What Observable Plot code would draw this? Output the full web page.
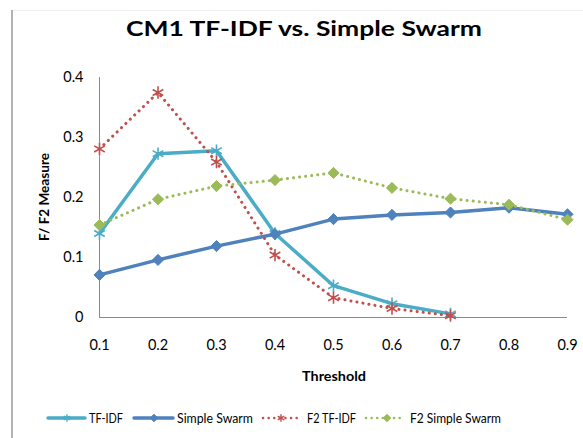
<!DOCTYPE html>
<html>
<head>
<meta charset="utf-8">
<script src="https://cdn.jsdelivr.net/npm/d3@7"></script>
<script src="https://cdn.jsdelivr.net/npm/@observablehq/plot@0.6"></script>
<style>
  html, body { margin: 0; padding: 0; background: #fff; }
  #wrap { position: relative; width: 583px; height: 438px; overflow: hidden; background: #fff; }
  #wrap svg { position: absolute; left: 0; top: 0; }
</style>
</head>
<body>
<div id="wrap"></div>
<script>
// ---- data ----
const title = "CM1 TF-IDF vs. Simple Swarm";
const xLabel = "Threshold";
const yLabel = "F/ F2 Measure";
const thresholds = [0.1, 0.2, 0.3, 0.4, 0.5, 0.6, 0.7, 0.8, 0.9];
const yTicks = [0, 0.1, 0.2, 0.3, 0.4];
const seriesNames = ["TF-IDF", "Simple Swarm", "F2 TF-IDF", "F2 Simple Swarm"];
const tfidf = [0.140, 0.273, 0.278, 0.140, 0.053, 0.023, 0.006];
const simpleSwarm = [0.071, 0.096, 0.119, 0.139, 0.164, 0.171, 0.175, 0.183, 0.172];
const f2Tfidf = [0.281, 0.375, 0.259, 0.104, 0.033, 0.015, 0.003];
const f2SimpleSwarm = [0.154, 0.197, 0.219, 0.229, 0.241, 0.216, 0.198, 0.188, 0.163];

// ---- styles ----
const colors = ["#4BACC6", "#4F81BD", "#C0504D", "#9BBB59"];
const symbols = ["asterisk", "diamond2", "asterisk", "diamond2"];
const dotted = [false, false, true, true];
const font = "Lato, 'Open Sans', sans-serif";

const valuesList = [tfidf, simpleSwarm, f2Tfidf, f2SimpleSwarm];
const rows = valuesList.map((vals, i) =>
  vals.map((v, j) => ({ series: seriesNames[i], x: thresholds[j], y: v })));

const marks = [
  Plot.ruleY([0], { x1: thresholds[0], x2: thresholds[thresholds.length - 1], stroke: "#8a8a8a", strokeWidth: 1 }),
  Plot.ruleX([thresholds[0]], { y1: 0, y2: yTicks[yTicks.length - 1], stroke: "#8a8a8a", strokeWidth: 1 })
];
rows.forEach((data, i) => {
  marks.push(Plot.lineY(data, {
    x: "x", y: "y", stroke: colors[i],
    strokeWidth: dotted[i] ? 3 : 3.5,
    strokeDasharray: dotted[i] ? "0.1 6" : null,
    strokeLinecap: "round", strokeLinejoin: "round"
  }));
  if (symbols[i] === "asterisk") {
    marks.push(Plot.dot(data, { x: "x", y: "y", symbol: "asterisk", r: 5.8, stroke: colors[i], strokeWidth: 1.6, fill: "none" }));
  } else {
    marks.push(Plot.dot(data, { x: "x", y: "y", symbol: "diamond2", r: 5, stroke: colors[i], strokeWidth: 1, fill: colors[i] }));
  }
});

const chart = Plot.plot({
  width: 583,
  height: 438,
  marginTop: 77,
  marginLeft: 99,
  marginRight: 16,
  marginBottom: 121,
  style: { fontFamily: font, fontSize: "14.5px", color: "#000", background: "transparent" },
  x: { type: "linear", domain: [thresholds[0], thresholds[thresholds.length - 1]], ticks: thresholds,
       tickFormat: d => d.toFixed(1), tickSize: 0, tickPadding: 22, label: null },
  y: { domain: [yTicks[0], yTicks[yTicks.length - 1]], ticks: yTicks,
       tickFormat: d => d === 0 ? "0" : d.toFixed(1), tickSize: 0, tickPadding: 16, label: null },
  marks
});

const wrap = document.getElementById("wrap");

// overlay (frame lines, title, axis titles, legend)
const ov = d3.create("svg").attr("width", 583).attr("height", 438)
  .style("font-family", font);
ov.append("line").attr("x1", 12).attr("x2", 583).attr("y1", 10.5).attr("y2", 10.5)
  .attr("stroke", "#efefef").attr("stroke-width", 1);
ov.append("line").attr("x1", 12).attr("x2", 12).attr("y1", 10).attr("y2", 438)
  .attr("stroke", "#b3b3b3").attr("stroke-width", 2);

ov.append("text").text(title).attr("x", 126).attr("y", 35.5)
  .attr("font-size", 21.5).attr("font-weight", "bold").attr("fill", "#000")
  .attr("textLength", 356).attr("lengthAdjust", "spacingAndGlyphs");

ov.append("text").text(xLabel).attr("x", 302).attr("y", 381)
  .attr("font-size", 13.5).attr("font-weight", "bold").attr("fill", "#000")
  .attr("textLength", 64).attr("lengthAdjust", "spacingAndGlyphs");

ov.append("text").text(yLabel)
  .attr("transform", "translate(49,241) rotate(-90)")
  .attr("font-size", 13.5).attr("font-weight", "bold").attr("fill", "#000")
  .attr("textLength", 88).attr("lengthAdjust", "spacingAndGlyphs");

// legend
const legend = [
  { x1: 48, x2: 85, mx: 67, tx: 89, tw: 34 },
  { x1: 134, x2: 173, mx: 154, tx: 177, tw: 76 },
  { x1: 263, x2: 298, mx: 281, tx: 307, tw: 49 },
  { x1: 366, x2: 402, mx: 387, tx: 410, tw: 91 }
];
const ly = 418;
legend.forEach((L, i) => {
  const g = ov.append("g");
  g.append("line").attr("x1", L.x1).attr("x2", L.x2).attr("y1", ly).attr("y2", ly)
    .attr("stroke", colors[i]).attr("stroke-width", dotted[i] ? 2.5 : 3.5)
    .attr("stroke-linecap", "round")
    .attr("stroke-dasharray", dotted[i] ? "0.1 5.5" : null);
  if (symbols[i] === "asterisk") {
    const sym = d3.symbol(d3.symbolAsterisk, 40)();
    g.append("path").attr("d", sym).attr("transform", `translate(${L.mx},${ly})`)
      .attr("fill", "none").attr("stroke", colors[i]).attr("stroke-width", 1.4);
  } else {
    const sym = d3.symbol(d3.symbolDiamond2, 36)();
    g.append("path").attr("d", sym).attr("transform", `translate(${L.mx},${ly})`)
      .attr("fill", colors[i]).attr("stroke", colors[i]).attr("stroke-width", 1);
  }
  g.append("text").text(seriesNames[i]).attr("x", L.tx).attr("y", ly + 4.5)
    .attr("font-size", 13).attr("fill", "#000")
    .attr("textLength", L.tw).attr("lengthAdjust", "spacingAndGlyphs");
});

wrap.appendChild(ov.node());
wrap.appendChild(chart);
</script>
</body>
</html>
